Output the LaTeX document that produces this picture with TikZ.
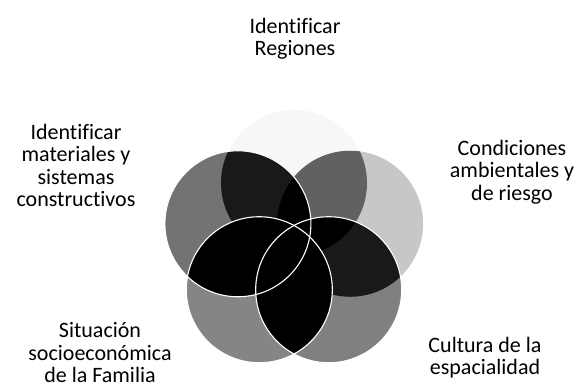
\documentclass[tikz,border=0pt]{standalone}
\usepackage{fontspec}
\setmainfont{Carlito}[Ligatures=NoCommon]
\usetikzlibrary{positioning}

\begin{document}
\begin{tikzpicture}[
    x=1pt, y=1pt,
    venn/.style={circle, minimum size=146pt, inner sep=0pt, draw=none},
    rim/.style={draw=white, line width=1.1pt},
    label/.style={font=\fontsize{22}{22.5}\selectfont, align=center, inner sep=0pt, anchor=north},
]
\useasboundingbox (0,0) rectangle (577,388);

% circulos en pentagono
\begin{scope}[shift={(294,146)}]
  \node[venn, fill=black!3]  (regiones)   at (90:59)   {};
  \node[venn, fill=black!22] (ambiente)   at (18:59)   {};
  \node[venn, fill=black!50] (cultura)    at (-54:59)  {};
  \node[venn, fill=black!48] (familia)    at (-126:59) {};
  \node[venn, fill=black!55] (materiales) at (162:59)  {};
\end{scope}

% intersecciones
\foreach \a/\b/\tono in {regiones/ambiente/black!62, regiones/materiales/black!90,
    ambiente/cultura/black!90, materiales/familia/black, familia/cultura/black,
    materiales/cultura/black, materiales/ambiente/black, familia/ambiente/black,
    regiones/familia/black, regiones/cultura/black}
{
  \begin{scope}
    \clip (\a.center) circle (73);
    \fill[\tono] (\b.center) circle (73);
  \end{scope}
}

% bordes
\draw[rim] (cultura.center) circle (73);
\draw[rim] (familia.center) circle (73);
\draw[rim] (materiales.center) circle (73);

% etiquetas
\node[label] (t-regiones)   at (295,370.4) {Identificar\\Regiones};
\node[label] (t-materiales) at (76,264.4)  {Identificar\\materiales y\\sistemas\\constructivos};
\node[label] (t-ambiente)   at (512,248.4) {Condiciones\\ambientales y\\de riesgo};
\node[label] (t-familia)    at (100,65.6)  {Situación\\socioeconómica\\de la Familia};
\node[label] (t-cultura)    at (485,51.4)  {Cultura de la\\espacialidad};
\end{tikzpicture}
\end{document}
